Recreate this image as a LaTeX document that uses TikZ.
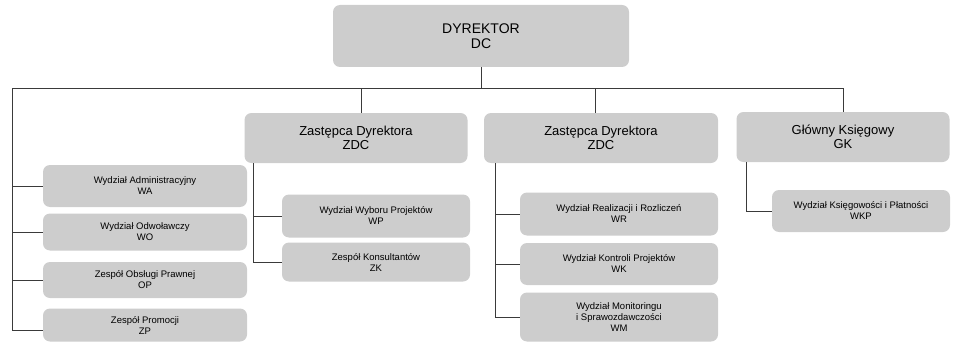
\documentclass[tikz,border=0pt]{standalone}
\usepackage{fontspec}
\setmainfont{Liberation Sans}
\usepackage{tikz}

\begin{document}
\begin{tikzpicture}[x=1pt,y=-1pt]

% Colori
\definecolor{colBox}{HTML}{CDCDCD}
\definecolor{lineGray}{HTML}{3A3A3A}

\tikzset{
  box/.style={fill=colBox, rounded corners=7pt, inner sep=1pt, align=center},
  linia/.style={lineGray, line width=0.6pt}
}

\useasboundingbox (0,0) rectangle (953,345);

% Dyrektor
\node[box, minimum width=296pt, minimum height=62pt, font=\fontsize{14}{15}\selectfont] (dc) at (481,36) {DYREKTOR\\DC};

% Zastepcy i Glowny Ksiegowy
\node[box, minimum width=223pt, minimum height=50pt, font=\fontsize{13}{14}\selectfont] (zdcA) at (356,138) {Zastępca Dyrektora\\ZDC};
\node[box, minimum width=234pt, minimum height=50pt, font=\fontsize{13}{14}\selectfont] (zdcB) at (601,138) {Zastępca Dyrektora\\ZDC};
\node[box, minimum width=213pt, minimum height=50pt, font=\fontsize{13}{14}\selectfont] (gk) at (843,137) {Główny Księgowy\\GK};

% Komorki podlegle dyrektorowi
\node[box, minimum width=204pt, minimum height=42pt, font=\fontsize{9.5}{11}\selectfont] (wa) at (145,186) {Wydział Administracyjny\\WA};
\node[box, minimum width=204pt, minimum height=37pt, font=\fontsize{9.5}{11}\selectfont] (wo) at (145,232) {Wydział Odwoławczy\\WO};
\node[box, minimum width=204pt, minimum height=36pt, font=\fontsize{9.5}{11}\selectfont] (op) at (145,280) {Zespół Obsługi Prawnej\\OP};
\node[box, minimum width=204pt, minimum height=33pt, font=\fontsize{9.5}{11}\selectfont] (zp) at (145,325) {Zespół Promocji\\ZP};

% Komorki ZDC (lewy)
\node[box, minimum width=188pt, minimum height=43pt, font=\fontsize{9.5}{11}\selectfont] (wp) at (376,216) {Wydział Wyboru Projektów\\WP};
\node[box, minimum width=188pt, minimum height=39pt, font=\fontsize{9.5}{11}\selectfont] (zk) at (376,262) {Zespół Konsultantów\\ZK};

% Komorki ZDC (prawy)
\node[box, minimum width=198pt, minimum height=43pt, font=\fontsize{9.5}{11}\selectfont] (wr) at (619,214) {Wydział Realizacji i Rozliczeń\\WR};
\node[box, minimum width=198pt, minimum height=42pt, font=\fontsize{9.5}{11}\selectfont] (wk) at (619,264) {Wydział Kontroli Projektów\\WK};
\node[box, minimum width=198pt, minimum height=49pt, font=\fontsize{9.5}{11}\selectfont] (wm) at (619,317) {Wydział Monitoringu\\i Sprawozdawczości\\WM};

% Komorka GK
\node[box, minimum width=178pt, minimum height=42pt, font=\fontsize{9.5}{11}\selectfont] (wkp) at (861,211) {Wydział Księgowości i Płatności\\WKP};

% Magistrala
\coordinate (busL) at (12,88);
\coordinate (busR) at (843,88);
\coordinate (leftEnd) at (12,330);
\draw[linia] (dc.south) -- (dc.south |- busL);
\draw[linia] (leftEnd) -- (busL) -- (busR) -- (gk.north -| busR);
\draw[linia] (zdcA.north -| 361,0) -- (361,88);
\draw[linia] (zdcB.north -| 595,0) -- (595,88);

% Galezie - dyrektor
\draw[linia] (busL |- wa.west) -- (wa.west);
\draw[linia] (busL |- wo.west) -- (wo.west);
\draw[linia] (busL |- op.west) -- (op.west);
\draw[linia] (leftEnd) -- (zp.west |- leftEnd);

% Galezie - ZDC (lewy)
\draw[linia] (253,163) |- (zk.west);
\draw[linia] (253,216) -- (wp.west);

% Galezie - ZDC (prawy)
\draw[linia] (495,163) |- (wm.west);
\draw[linia] (495,214) -- (wr.west);
\draw[linia] (495,264) -- (wk.west);

% Galezie - GK
\draw[linia] (746,162) |- (wkp.west);

\end{tikzpicture}
\end{document}
